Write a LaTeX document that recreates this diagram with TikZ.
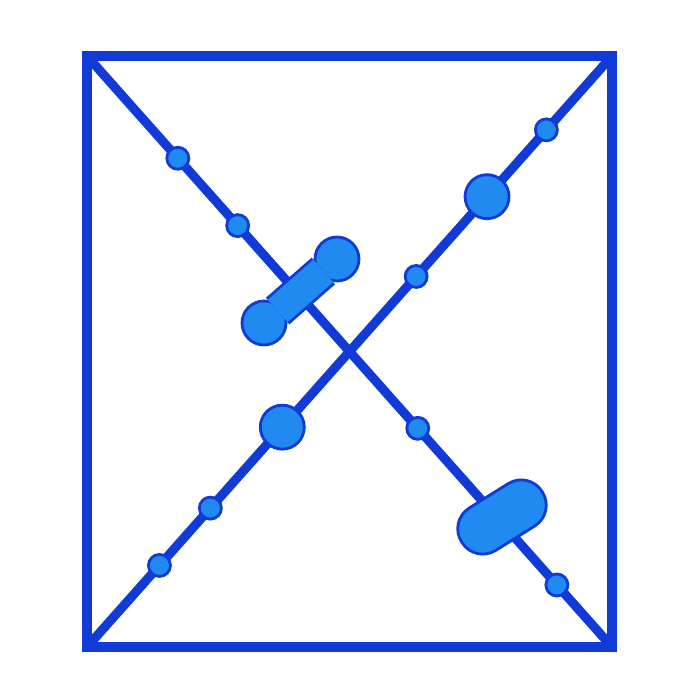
\documentclass[tikz,border=0pt]{standalone}
\usetikzlibrary{calc}
\definecolor{lineblue}{RGB}{18,58,215}
\definecolor{blobblue}{RGB}{32,138,240}
\begin{document}
\begin{tikzpicture}[
  frame/.style={draw=lineblue, line width=5.6pt, line join=miter},
  diag/.style={draw=lineblue, line width=5.2pt},
  smalldot/.style={circle, draw=lineblue, fill=blobblue, line width=1.6pt, inner sep=0pt, minimum size=4.4mm},
  bigdot/.style={circle, draw=lineblue, fill=blobblue, line width=1.6pt, inner sep=0pt, minimum size=8.8mm},
  capsule/.style={rectangle, draw=lineblue, fill=blobblue, line width=1.6pt, inner sep=0pt,
    minimum width=19mm, minimum height=10mm, rounded corners=4.9mm},
  bar/.style={draw=lineblue, line width=1.6pt, double=blobblue, double distance=17pt,
    shorten <=-3pt, shorten >=-3pt}
]
\useasboundingbox (0mm,0mm) rectangle (139mm,-139mm);

\coordinate (tl) at (17.4mm,-11.2mm);
\coordinate (tr) at (122.4mm,-11.2mm);
\coordinate (bl) at (17.4mm,-129.4mm);
\coordinate (br) at (122.4mm,-129.4mm);

% the two diagonals, then the box
\draw[diag] (tl) -- (br);
\draw[diag] (bl) -- (tr);
\draw[frame] (tl) -- (tr) -- (br) -- (bl) -- cycle;

% beads on the falling diagonal
\path (tl) -- (br)
  node[smalldot, pos=0.173] (a1) {}
  node[smalldot, pos=0.287] (a2) {}
  node[smalldot, pos=0.630] (a3) {}
  node[smalldot, pos=0.895] (a4) {};

% beads on the rising diagonal
\path (bl) -- (tr)
  node[smalldot, pos=0.138] (b1) {}
  node[smalldot, pos=0.235] (b2) {}
  node[bigdot, pos=0.372] (b3) {}
  node[smalldot, pos=0.627] (b4) {}
  node[bigdot, pos=0.762] (b5) {}
  node[smalldot, pos=0.875] (b6) {};

% dumbbell across the falling diagonal
\node[bigdot] (lobeL) at (52.8mm,-64.6mm) {};
\node[bigdot] (lobeR) at (67.4mm,-51.8mm) {};
\draw[bar] (lobeL) -- (lobeR);

% capsule near the lower right
\node[capsule, rotate=32] (cap) at (100.4mm,-103.4mm) {};
\end{tikzpicture}
\end{document}
